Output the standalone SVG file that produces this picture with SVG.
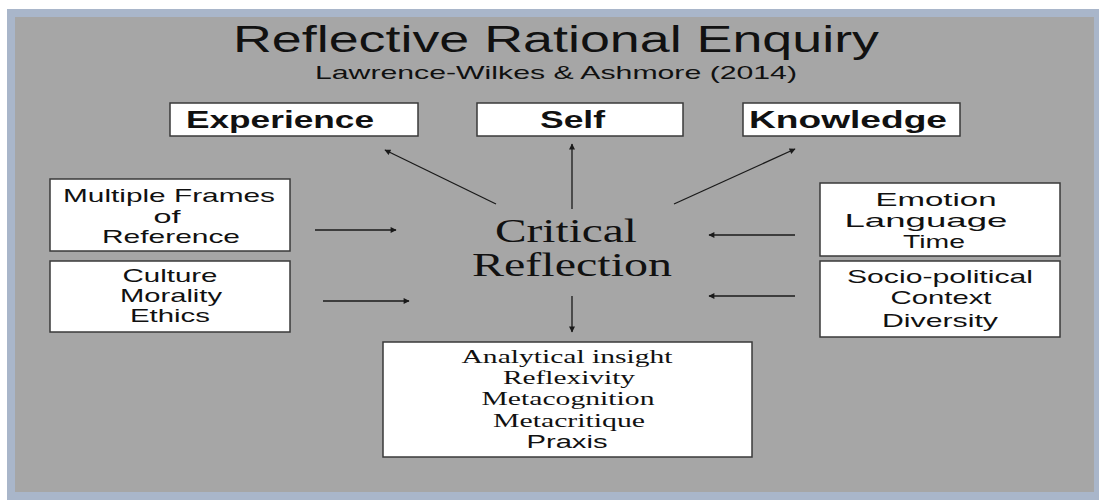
<svg xmlns="http://www.w3.org/2000/svg" width="1099" height="500" viewBox="0 0 1099 500">
<defs>
<marker id="ah" viewBox="0 0 10 10" refX="9" refY="5" markerWidth="8" markerHeight="6" markerUnits="userSpaceOnUse" orient="auto">
<path d="M0,0 L10,5 L0,10 Z" fill="#1a1a1a"/>
</marker>
<style>
.box{fill:#ffffff;stroke:#3a3a3a;stroke-width:1.5}
.sans{font-family:"Liberation Sans",Arial,sans-serif;fill:#111}
.serif{font-family:"Liberation Serif","Times New Roman",serif;fill:#111}
.bold{font-weight:bold}
.c{text-anchor:middle}
.conn line{stroke:#1a1a1a;stroke-width:1.3;marker-end:url(#ah)}
</style>
</defs>
<rect x="0" y="0" width="1099" height="500" fill="#ffffff"/>
<rect x="7" y="9" width="1092" height="491" fill="#a9b6ca"/>
<rect x="15" y="17" width="1079" height="475" fill="#a6a6a6"/>

<g id="title">
<text class="sans c" x="556" y="52" font-size="37" textLength="646" lengthAdjust="spacingAndGlyphs">Reflective Rational Enquiry</text>
<text class="sans c" x="556" y="79" font-size="19" textLength="482" lengthAdjust="spacingAndGlyphs">Lawrence-Wilkes &amp; Ashmore (2014)</text>
</g>

<g id="experience">
<rect class="box" x="170" y="103" width="248" height="33"/>
<text class="sans bold" x="186" y="128" font-size="24" textLength="188" lengthAdjust="spacingAndGlyphs">Experience</text>
</g>
<g id="self">
<rect class="box" x="477" y="103" width="206" height="33"/>
<text class="sans bold" x="540" y="128" font-size="24" textLength="65" lengthAdjust="spacingAndGlyphs">Self</text>
</g>
<g id="knowledge">
<rect class="box" x="743" y="103" width="217" height="33"/>
<text class="sans bold" x="749" y="128" font-size="24" textLength="198" lengthAdjust="spacingAndGlyphs">Knowledge</text>
</g>

<g id="frames">
<rect class="box" x="50" y="179" width="240" height="72"/>
<text class="sans c" x="169" y="202" font-size="19" textLength="212" lengthAdjust="spacingAndGlyphs">Multiple Frames</text>
<text class="sans c" x="167" y="223" font-size="19" textLength="27" lengthAdjust="spacingAndGlyphs">of</text>
<text class="sans c" x="171" y="243" font-size="19" textLength="138" lengthAdjust="spacingAndGlyphs">Reference</text>
</g>
<g id="culture">
<rect class="box" x="50" y="261" width="240" height="71"/>
<text class="sans c" x="170" y="282" font-size="19" textLength="95" lengthAdjust="spacingAndGlyphs">Culture</text>
<text class="sans c" x="171" y="302" font-size="19" textLength="102" lengthAdjust="spacingAndGlyphs">Morality</text>
<text class="sans c" x="170" y="322" font-size="19" textLength="80" lengthAdjust="spacingAndGlyphs">Ethics</text>
</g>
<g id="emotion">
<rect class="box" x="820" y="183" width="240" height="73"/>
<text class="sans c" x="936" y="206" font-size="19" textLength="121" lengthAdjust="spacingAndGlyphs">Emotion</text>
<text class="sans c" x="926" y="227" font-size="19" textLength="163" lengthAdjust="spacingAndGlyphs">Language</text>
<text class="sans c" x="934" y="248" font-size="19" textLength="62" lengthAdjust="spacingAndGlyphs">Time</text>
</g>
<g id="socio">
<rect class="box" x="820" y="261" width="240" height="76"/>
<text class="sans c" x="940" y="283" font-size="19" textLength="186" lengthAdjust="spacingAndGlyphs">Socio-political</text>
<text class="sans c" x="941" y="304" font-size="19" textLength="101" lengthAdjust="spacingAndGlyphs">Context</text>
<text class="sans c" x="940" y="327" font-size="19" textLength="116" lengthAdjust="spacingAndGlyphs">Diversity</text>
</g>

<g id="critical">
<text class="serif c" x="566" y="242" font-size="33" textLength="142" lengthAdjust="spacingAndGlyphs">Critical</text>
<text class="serif c" x="572" y="276" font-size="33" textLength="200" lengthAdjust="spacingAndGlyphs">Reflection</text>
</g>

<g id="outcomes">
<rect class="box" x="383" y="342" width="369" height="115"/>
<text class="serif c" x="567" y="363" font-size="18" textLength="211" lengthAdjust="spacingAndGlyphs">Analytical insight</text>
<text class="serif c" x="569" y="384" font-size="18" textLength="132" lengthAdjust="spacingAndGlyphs">Reflexivity</text>
<text class="serif c" x="568" y="405" font-size="18" textLength="173" lengthAdjust="spacingAndGlyphs">Metacognition</text>
<text class="serif c" x="569" y="427" font-size="18" textLength="152" lengthAdjust="spacingAndGlyphs">Metacritique</text>
<text class="sans c" x="567" y="448" font-size="18" textLength="81" lengthAdjust="spacingAndGlyphs">Praxis</text>
</g>

<g id="connectors" class="conn">
<line x1="496" y1="204" x2="385" y2="150"/>
<line x1="572" y1="209" x2="572" y2="144"/>
<line x1="674" y1="204" x2="795" y2="149"/>
<line x1="315" y1="230" x2="396" y2="230"/>
<line x1="323" y1="301" x2="409" y2="301"/>
<line x1="795" y1="235" x2="709" y2="235"/>
<line x1="795" y1="296" x2="709" y2="296"/>
<line x1="572" y1="296" x2="572" y2="332"/>
</g>
</svg>
